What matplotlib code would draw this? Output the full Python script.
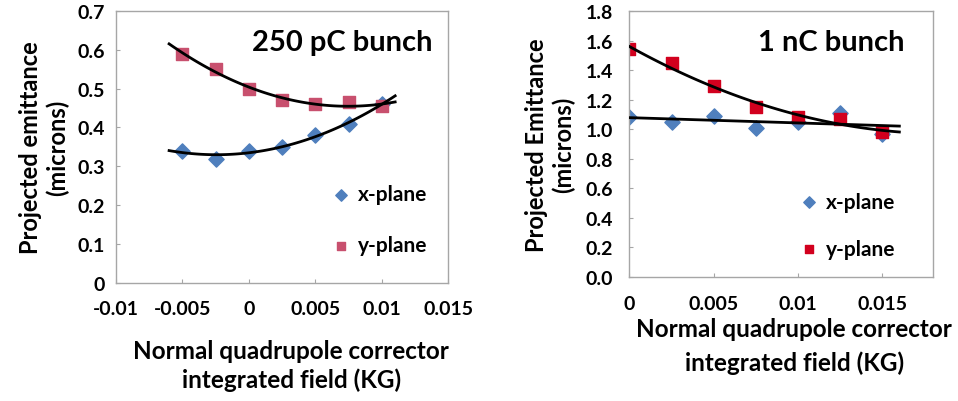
import numpy as np
import matplotlib.pyplot as plt

plt.rcParams['font.family'] = ['Lato', 'DejaVu Sans']

# 250 pC bunch
field_250 = [-0.005, -0.0025, 0.0, 0.0025, 0.005, 0.0075, 0.01]
x_250 = [0.34, 0.32, 0.34, 0.35, 0.38, 0.41, 0.46]
y_250 = [0.59, 0.55, 0.50, 0.47, 0.46, 0.465, 0.455]

# 1 nC bunch
field_1n = [0.0, 0.0025, 0.005, 0.0075, 0.01, 0.0125, 0.015]
x_1n = [1.08, 1.05, 1.09, 1.01, 1.05, 1.11, 0.97]
y_1n = [1.54, 1.45, 1.29, 1.15, 1.08, 1.07, 0.98]

blue = "#4f7fbd"
pink = "#c8506e"
red = "#d2001e"
spine_col = "#a6a6a6"

fig = plt.figure(figsize=(9.58, 4.02), dpi=100)
ax1 = fig.add_axes([0.121, 0.2935, 0.347, 0.677])
ax2 = fig.add_axes([0.657, 0.3085, 0.317, 0.6617])


def trend(ax, xs, ys, deg, lo, hi):
    c = np.polyfit(xs, ys, deg)
    xx = np.linspace(lo, hi, 100)
    ax.plot(xx, np.polyval(c, xx), color="black", lw=2, zorder=3)


def style(ax, xpad, ypad):
    for s in ax.spines.values():
        s.set_color(spine_col)
        s.set_linewidth(1)
    ax.tick_params(length=3, color=spine_col, direction="in", labelsize=14)
    ax.tick_params(axis="x", pad=xpad)
    ax.tick_params(axis="y", pad=ypad)
    for lab in ax.get_xticklabels() + ax.get_yticklabels():
        lab.set_fontweight("bold")


leg_kw = dict(frameon=False, handlelength=1.0, handletextpad=0.3, borderaxespad=0,
              prop=dict(weight="bold", size=15), markerscale=0.75)

# left panel
ax1.scatter(field_250, x_250, marker="D", s=60, color=blue, zorder=2, label="x-plane")
ax1.scatter(field_250, y_250, marker="s", s=70, color=pink, zorder=2, label="y-plane")
trend(ax1, field_250, y_250, 2, -0.006, 0.011)
trend(ax1, field_250, x_250, 2, -0.006, 0.011)
ax1.set_xlim(-0.01, 0.015)
ax1.set_ylim(0, 0.7)
ax1.set_xticks([-0.01, -0.005, 0, 0.005, 0.01, 0.015])
ax1.set_xticklabels(["-0.01", "-0.005", "0", "0.005", "0.01", "0.015"])
ax1.set_yticks(np.arange(0, 0.71, 0.1))
ax1.set_yticklabels(["0", "0.1", "0.2", "0.3", "0.4", "0.5", "0.6", "0.7"])
style(ax1, 12, 8)
ax1.text(0.952, 0.886, "250 pC bunch", transform=ax1.transAxes, ha="right", va="center",
         fontsize=21, fontweight="bold")
ax1.set_ylabel("Projected emittance\n(microns)", fontsize=17, fontweight="bold",
               linespacing=1.2, va="center")
ax1.yaxis.set_label_coords(-0.215, 0.5)
ax1.set_xlabel("Normal quadrupole corrector\nintegrated field (KG)", fontsize=17.5, fontweight="bold",
               linespacing=1.3)
ax1.xaxis.set_label_coords(0.527, -0.205)
ax1.xaxis.label.set_va("top")
ax1.legend(loc="center left", bbox_to_anchor=(0.62, 0.232), labelspacing=1.5, **leg_kw)

# right panel
ax2.scatter(field_1n, x_1n, marker="D", s=60, color=blue, zorder=2, label="x-plane")
ax2.scatter(field_1n, y_1n, marker="s", s=70, color=red, zorder=2, label="y-plane")
trend(ax2, field_1n, y_1n, 2, 0.0, 0.016)
trend(ax2, field_1n, x_1n, 1, 0.0, 0.016)
ax2.set_xlim(0, 0.018)
ax2.set_ylim(0, 1.8)
ax2.set_xticks([0, 0.005, 0.01, 0.015])
ax2.set_xticklabels(["0", "0.005", "0.01", "0.015"])
ax2.set_yticks(np.arange(0, 1.81, 0.2))
ax2.set_yticklabels([f"{v:.1f}" for v in np.arange(0, 1.81, 0.2)])
style(ax2, 13, 12)
ax2.text(0.905, 0.883, "1 nC bunch", transform=ax2.transAxes, ha="right", va="center",
         fontsize=21, fontweight="bold")
ax2.set_ylabel("Projected Emittance\n(microns)", fontsize=17, fontweight="bold",
               linespacing=1.2, va="center")
ax2.yaxis.set_label_coords(-0.26, 0.5)
ax2.set_xlabel("Normal quadrupole corrector\nintegrated field (KG)", fontsize=17.5, fontweight="bold",
               linespacing=1.55)
ax2.xaxis.set_label_coords(0.543, -0.15)
ax2.xaxis.label.set_va("top")
ax2.legend(loc="center left", bbox_to_anchor=(0.53, 0.195), labelspacing=1.3, **leg_kw)

fig.savefig("out.png", dpi=100)
